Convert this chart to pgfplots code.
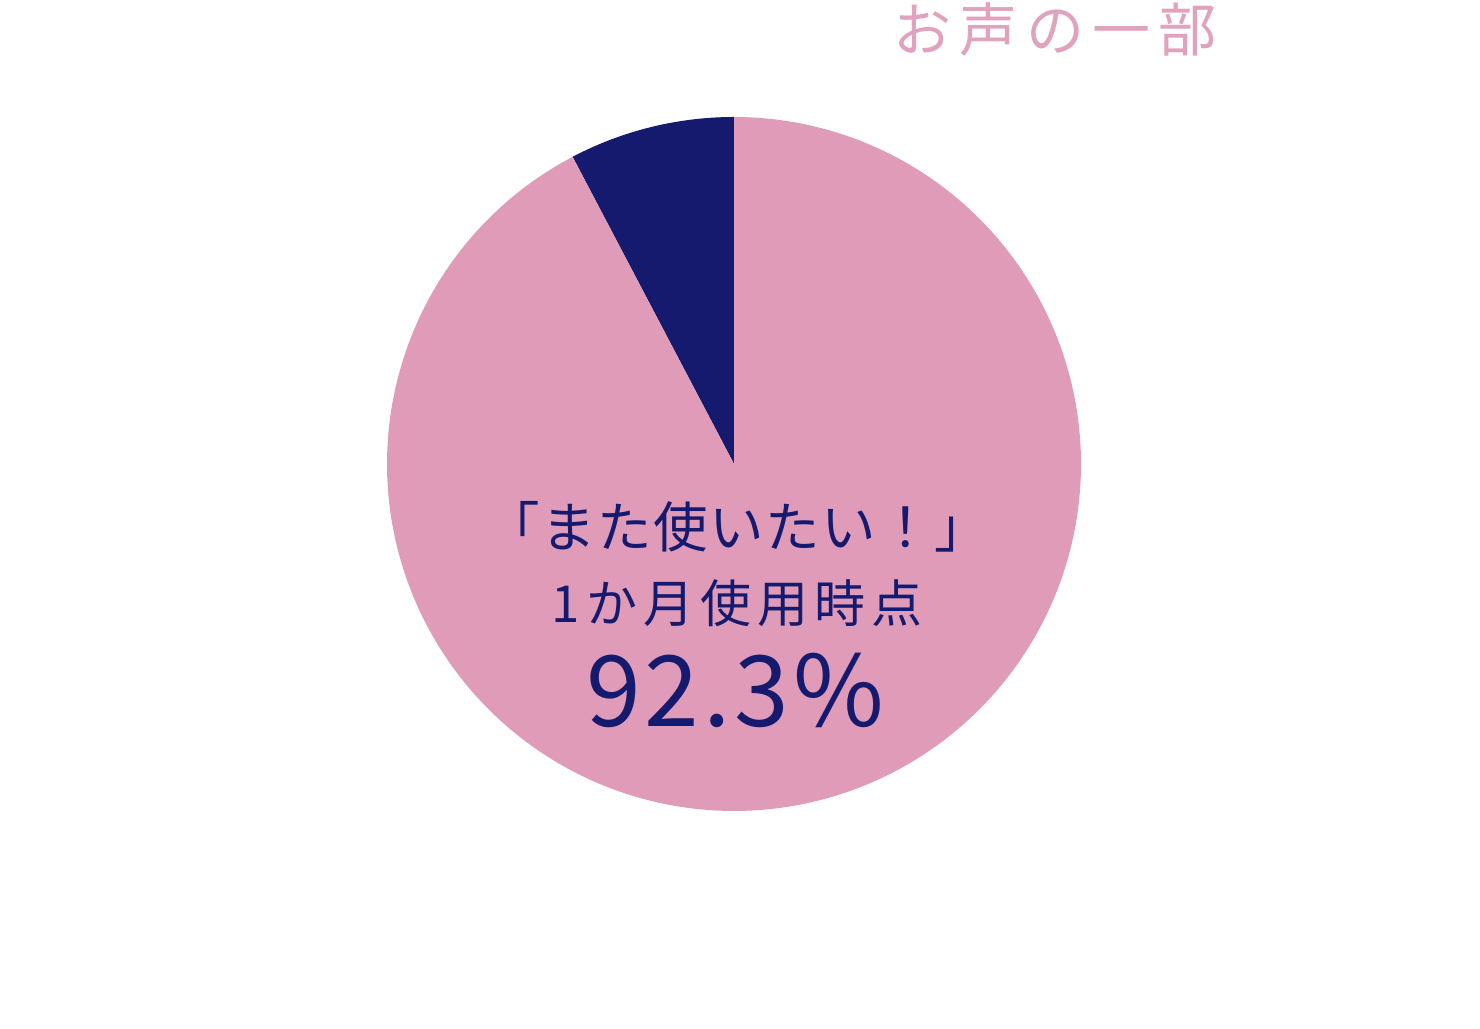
\documentclass[border=0pt]{standalone}
\usepackage{fontspec}
\usepackage{pgfplots}
\usepackage{pgfplotstable}
\pgfplotsset{compat=1.18}
\newfontfamily\jpone[LetterSpace=3]{Noto Sans CJK JP}
\newfontfamily\jpwide[LetterSpace=12]{Noto Sans CJK JP}
\newfontfamily\jpnum[LetterSpace=4]{Noto Sans CJK JP}
\newfontfamily\jptitle[LetterSpace=14]{Noto Sans CJK JP}
\definecolor{piepink}{HTML}{DF9BB7}
\definecolor{pienavy}{HTML}{161A6F}
\definecolor{titlepink}{HTML}{E0A2BC}
\pgfplotstableread{
label value
yes 92.3
other 7.7
}\piedata
\begin{document}
\begin{tikzpicture}
\pgfplotstablegetelem{0}{value}\of\piedata\let\vyes\pgfplotsretval
\pgfplotstablegetelem{1}{value}\of\piedata\let\vother\pgfplotsretval
\pgfmathsetmacro{\aone}{90+\vother*3.6}
\pgfmathsetmacro{\atwo}{\aone+\vyes*3.6}
\begin{axis}[
  width=14.8cm, height=10.29cm, scale only axis,
  xmin=0, xmax=1480, ymin=0, ymax=1029, y dir=reverse,
  hide axis, clip=false, anchor=south west, at={(0,0)}
]
\addplot[fill=pienavy, draw=none, variable=\t, domain=90:\aone, samples=60]
  ({734+347*cos(t)},{464-347*sin(t)}) -- (axis cs:734,464) -- cycle;
\addplot[fill=piepink, draw=none, variable=\t, domain=\aone:\atwo, samples=300]
  ({734+347*cos(t)},{464-347*sin(t)}) -- (axis cs:734,464) -- cycle;
\node[text=pienavy, font=\jpone\fontsize{15.5pt}{17pt}\selectfont] at (axis cs:737,527) {「また使いたい！」};
\node[text=pienavy, font=\jpwide\fontsize{14.5pt}{16pt}\selectfont] at (axis cs:737,603) {1か月使用時点};
\node[text=pienavy, font=\jpnum\fontsize{28pt}{30pt}\selectfont] at (axis cs:735,690) {92.3\%};
\node[text=titlepink, font=\jptitle\fontsize{16.5pt}{18pt}\selectfont] at (axis cs:1055,30) {お声の一部};
\end{axis}
\pgfresetboundingbox
\path (0,0) rectangle (14.8cm,10.29cm);
\end{tikzpicture}
\end{document}
